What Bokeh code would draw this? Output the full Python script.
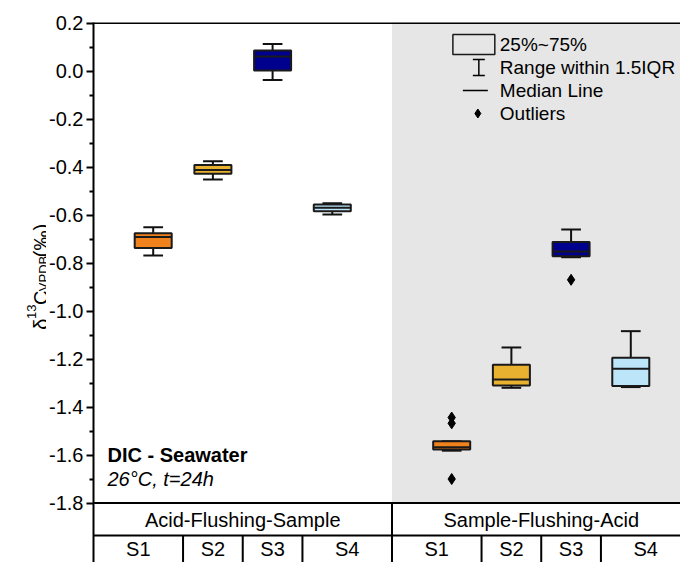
from bokeh.plotting import figure
from bokeh.layouts import row
from bokeh.models import Range1d, FixedTicker, PrintfTickFormatter, Span, ColumnDataSource
from bokeh.core.properties import value
from bokeh.embed import file_html
from bokeh.resources import INLINE
import math

# ---------------- data ----------------
groups = ["Acid-Flushing-Sample", "Sample-Flushing-Acid"]
samples = ["S1", "S2", "S3", "S4"]
colors = ["#F0821E", "#E8B230", "#00008F", "#BDE5FA"]

# box statistics, order: group1 S1..S4, group2 S1..S4
whisker_low = [-0.769, -0.452, -0.037, -0.598, -1.582, -1.320, -0.776, -1.317]
q1 = [-0.738, -0.428, 0.002, -0.584, -1.577, -1.310, -0.772, -1.312]
median = [-0.692, -0.412, 0.060, -0.570, -1.568, -1.285, -0.752, -1.241]
q3 = [-0.676, -0.392, 0.085, -0.556, -1.543, -1.224, -0.713, -1.195]
whisker_high = [-0.651, -0.376, 0.113, -0.551, -1.543, -1.152, -0.660, -1.084]

outlier_box = [4, 4, 4, 6]
outlier_val = [-1.444, -1.468, -1.700, -0.870]

y_ticks = [0.2, 0.0, -0.2, -0.4, -0.6, -0.8, -1.0, -1.2, -1.4, -1.6, -1.8]
y_minor = [0.1, -0.1, -0.3, -0.5, -0.7, -0.9, -1.1, -1.3, -1.5, -1.7]

legend_labels = ["25%~75%", "Range within 1.5IQR", "Median Line", "Outliers"]
note_title = "DIC - Seawater"
note_sub = "26°C, t=24h"
y_title_parts = ["δ", "13", "C", "VPDB", " (‰)"]

# ---------------- layout helpers ----------------
FONT = "Liberation Sans"
H = 562
LAB_W = 46                 # width of the y-title strip
PX0, PXU = 92.0, 59.8      # page x of x=0, px per unit
PY0, PYU = 22.5, 240.0     # page y of y=0.2, px per unit
GROUP_SPAN = len(samples) + 1


def dx(px):
    return (px - PX0) / PXU


def dy(py):
    return 0.2 - (py - PY0) / PYU


pos = [g * GROUP_SPAN + i + 1 for g in range(len(groups)) for i in range(len(samples))]
box_colors = [colors[i] for g in range(len(groups)) for i in range(len(samples))]
BW = 0.62
CW = 0.33

y_end = dy(22.0)
y_start = dy(H)
x_end = dx(680.0)

p = figure(width=680 - LAB_W, height=H, output_backend="svg", toolbar_location=None,
           x_range=Range1d(0, x_end), y_range=Range1d(y_start, y_end),
           x_axis_location=None, y_axis_location="left",
           min_border_left=int(PX0) - LAB_W, min_border_right=0, min_border_top=22, min_border_bottom=0)
p.outline_line_color = None
p.grid.visible = False
p.background_fill_color = "white"
p.border_fill_color = "white"

ax = p.yaxis[0]
ax.ticker = FixedTicker(ticks=y_ticks, minor_ticks=y_minor)
ax.formatter = PrintfTickFormatter(format="%.1f")
ax.axis_line_width = 2
ax.axis_line_color = "black"
ax.major_tick_line_width = 2
ax.minor_tick_line_width = 2
ax.major_tick_out = 7
ax.major_tick_in = 0
ax.minor_tick_out = 4
ax.minor_tick_in = 0
ax.major_label_standoff = 3
ax.major_label_text_font = FONT
ax.major_label_text_font_size = "20px"
ax.major_label_text_color = "black"

# shaded second group
p.quad(left=[GROUP_SPAN], right=[2 * GROUP_SPAN], bottom=[y_ticks[-1]], top=[y_end + 1],
       fill_color="#E6E6E6", line_color=None)

p.add_layout(Span(location=y_ticks[0], dimension="width", line_color="black", line_width=2))

# boxes
src = ColumnDataSource(dict(x=pos, lo=whisker_low, q1=q1, med=median, q3=q3, hi=whisker_high,
                            left=[x - BW / 2 for x in pos], right=[x + BW / 2 for x in pos],
                            cl=[x - CW / 2 for x in pos], cr=[x + CW / 2 for x in pos],
                            color=box_colors))
p.segment(x0="x", y0="q3", x1="x", y1="hi", source=src, line_color="#111111", line_width=2)
p.segment(x0="x", y0="q1", x1="x", y1="lo", source=src, line_color="#111111", line_width=2)
p.segment(x0="cl", y0="hi", x1="cr", y1="hi", source=src, line_color="#111111", line_width=2)
p.segment(x0="cl", y0="lo", x1="cr", y1="lo", source=src, line_color="#111111", line_width=2)
p.quad(left="left", right="right", bottom="q1", top="q3", source=src,
       fill_color="color", line_color="#1a1a1a", line_width=2)
p.segment(x0="left", y0="med", x1="right", y1="med", source=src, line_color="#1a1a1a", line_width=2)

p.scatter(x=[pos[i] for i in outlier_box], y=outlier_val, marker="diamond", size=11,
          fill_color="black", line_color="black")

# legend (drawn manually)
rows = [44, 67, 90, 113]
p.quad(left=[dx(452)], right=[dx(494)], top=[dy(rows[0] - 10)], bottom=[dy(rows[0] + 10)],
       fill_color=None, line_color="#1a1a1a", line_width=1.5)
ix = dx(478)
p.segment(x0=[ix], y0=[dy(rows[1] - 8)], x1=[ix], y1=[dy(rows[1] + 8)], line_color="black", line_width=1.5)
p.segment(x0=[dx(472), dx(472)], y0=[dy(rows[1] - 8), dy(rows[1] + 8)],
          x1=[dx(484), dx(484)], y1=[dy(rows[1] - 8), dy(rows[1] + 8)], line_color="black", line_width=1.5)
p.segment(x0=[dx(462)], y0=[dy(rows[2])], x1=[dx(487)], y1=[dy(rows[2])], line_color="black", line_width=1.5)
p.scatter(x=[dx(477)], y=[dy(rows[3])], marker="diamond", size=9, fill_color="black", line_color="black")
p.text(x=[dx(499)] * 4, y=[dy(r) for r in rows], text=legend_labels,
       text_font=value(FONT), text_font_size="19px", text_baseline="middle", text_align="left",
       text_color="black")

# notes
p.text(x=[dx(106)], y=[-1.6], text=[note_title], text_font=value(FONT), text_font_size="20px",
       text_font_style="bold", text_baseline="middle", text_align="left", text_color="black")
p.text(x=[dx(106)], y=[-1.7], text=[note_sub], text_font=value(FONT), text_font_size="20px",
       text_font_style="italic", text_baseline="middle", text_align="left", text_color="black")

# bottom category table
row1 = dy(535)
p.segment(x0=[0, 0], y0=[y_ticks[-1], row1], x1=[2 * GROUP_SPAN] * 2, y1=[y_ticks[-1], row1],
          line_color="black", line_width=2)
vx, vy0 = [], []
cell_x, cell_lab = [], []
for g in range(len(groups)):
    start = g * GROUP_SPAN
    gp = pos[g * len(samples):(g + 1) * len(samples)]
    bounds = [start] + [(gp[i] + gp[i + 1]) / 2 for i in range(len(gp) - 1)] + [start + GROUP_SPAN]
    for i in range(len(samples)):
        cell_x.append((bounds[i] + bounds[i + 1]) / 2)
        cell_lab.append(samples[i])
    for b in bounds[1:-1]:
        vx.append(b)
        vy0.append(row1)
    if g > 0:
        vx.append(start)
        vy0.append(y_ticks[-1])
p.segment(x0=vx, y0=vy0, x1=vx, y1=[y_start] * len(vx), line_color="black", line_width=2)
p.text(x=[g * GROUP_SPAN + GROUP_SPAN / 2 for g in range(len(groups))], y=[dy(519)] * len(groups),
       text=groups, text_font=value(FONT), text_font_size="20px", text_baseline="middle",
       text_align="center", text_color="black")
p.text(x=cell_x, y=[dy(548)] * len(cell_x), text=cell_lab, text_font=value(FONT),
       text_font_size="20px", text_baseline="middle", text_align="center", text_color="black")

# ---------------- y-axis title strip (pixel coordinates, y measured upward) ----------------
lab = figure(width=LAB_W, height=H, output_backend="svg", toolbar_location=None,
             x_range=Range1d(0, LAB_W), y_range=Range1d(0, H),
             x_axis_location=None, y_axis_location=None,
             min_border_left=0, min_border_right=0, min_border_top=0, min_border_bottom=0)
lab.outline_line_color = None
lab.grid.visible = False
lab.border_fill_color = "white"
lab.background_fill_color = "white"

sizes = [20, 13, 20, 13, 20]
base_x = [40, 31, 40, 43, 40]
widths = [11.1, 14.5, 14.4, 35.4, 38.9]
total = sum(widths)
cur = 262.5 + total / 2          # page y where the title begins (bottom end)
starts = []
for w in widths:
    starts.append(cur)
    cur -= w
for txt, fs, bx, sy in zip(y_title_parts, sizes, base_x, starts):
    lab.text(x=[bx], y=[H - sy], text=[txt], angle=math.pi / 2, text_font=value(FONT),
             text_font_size=f"{fs}px", text_align="left", text_baseline="alphabetic",
             text_color="black")

layout = row(lab, p)
open("out.html", "w").write(file_html(layout, INLINE))
